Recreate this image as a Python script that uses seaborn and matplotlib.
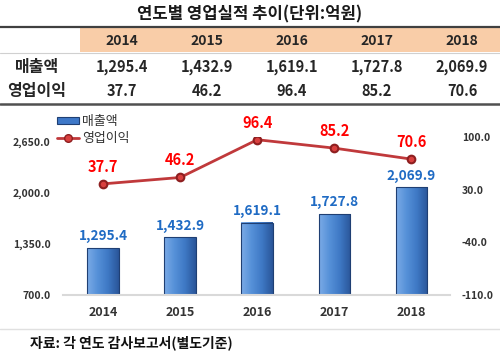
import numpy as np
import pandas as pd
import matplotlib
matplotlib.use("Agg")
import matplotlib.pyplot as plt
from matplotlib.patches import Rectangle, Patch
from matplotlib.lines import Line2D
import seaborn as sns

# ---- data ----
years = ["2014", "2015", "2016", "2017", "2018"]
sales = [1295.4, 1432.9, 1619.1, 1727.8, 2069.9]
profit = [37.7, 46.2, 96.4, 85.2, 70.6]
left_ticks = [700, 1350, 2000, 2650]
right_ticks = [-110, -40, 30, 100]

title = "연도별 영업실적 추이(단위:억원)"
row_names = ["매출액", "영업이익"]
source = "자료: 각 연도 감사보고서(별도기준)"

sns.set_theme(style="white")
plt.rcParams["font.family"] = ["Noto Sans CJK KR", "DejaVu Sans"]
plt.rcParams["font.weight"] = "bold"

W, H = 500, 358
fig = plt.figure(figsize=(W / 100, H / 100), dpi=100)


def fx(px):
    return px / W


def fy(py):
    return 1 - py / H


# ---- title + table ----
fig.text(fx(250), fy(14), title, ha="center", va="center", fontsize=12,
         fontweight="bold", color="#1a1a1a")
fig.add_artist(Rectangle((fx(80), fy(52)), fx(420), 25 / H, color="#F9CDA8", lw=0))
fig.add_artist(Line2D([0, 1], [fy(27), fy(27)], color="#404040", lw=1.6))
fig.add_artist(Line2D([0, 1], [fy(52.5), fy(52.5)], color="#D0D0D0", lw=0.8))

col_x = [122, 207, 292, 377, 462]
for x, yr, s, p in zip(col_x, years, sales, profit):
    fig.text(fx(x), fy(41), yr, ha="center", va="center", fontsize=10, fontweight="bold")
    fig.text(fx(x), fy(67), f"{s:,.1f}", ha="center", va="center", fontsize=10.5, fontweight="bold")
    fig.text(fx(x), fy(91), f"{p:.1f}", ha="center", va="center", fontsize=10.5, fontweight="bold")
fig.text(fx(37), fy(67), row_names[0], ha="center", va="center", fontsize=11.5, fontweight="bold")
fig.text(fx(37), fy(91), row_names[1], ha="center", va="center", fontsize=11.5, fontweight="bold")
fig.add_artist(Line2D([0, 1], [fy(104), fy(104)], color="#505050", lw=1.8))

# ---- chart ----
XLIM = (-0.52, 4.5)
ax = fig.add_axes([fx(63), fy(295), fx(387), (295 - 141.7) / H])
# secondary axis sits a little higher, like in the original
ax2 = fig.add_axes([fx(63), fy(295), fx(387), (295 - 137) / H])
ax2.patch.set_visible(False)
df = pd.DataFrame({"year": years, "sales": sales, "profit": profit})

sns.barplot(data=df, x="year", y="sales", ax=ax, color="#3E78C8", width=0.41,
            edgecolor="#1F3F73", linewidth=0.8, saturation=1)
ax.set_ylim(left_ticks[0], left_ticks[-1])
ax.set_xlim(*XLIM)

# cylinder-ish shading on bars
grad = np.linspace(0, 1, 64).reshape(1, -1)
cmap = matplotlib.colors.LinearSegmentedColormap.from_list(
    "bar", ["#7AAAE6", "#5590D8", "#3E78C4", "#2A5699"])
for patch in list(ax.patches):
    x0, w = patch.get_x(), patch.get_width()
    y0 = left_ticks[0]
    y1 = patch.get_y() + patch.get_height()
    ax.imshow(grad, extent=[x0, x0 + w, y0, y1], aspect="auto", cmap=cmap, zorder=1.5)
    ax.add_patch(Rectangle((x0, y0), w, y1 - y0, fill=False, edgecolor="#1F3F73",
                           lw=0.8, zorder=1.6))
    patch.set_visible(False)
ax.set_ylim(left_ticks[0], left_ticks[-1])
ax.set_xlim(*XLIM)

for i, s in enumerate(sales):
    ax.text(i, s + 60, f"{s:,.1f}", ha="center", va="bottom", fontsize=9.8,
            fontweight="bold", color="#1F6BC4", zorder=5, clip_on=False)

ax.set_yticks(left_ticks)
ax.set_yticklabels([f"{v:,.1f}" for v in left_ticks])

sns.pointplot(data=df, x="year", y="profit", ax=ax2, color="#C0393B",
              markers="o", linewidth=2, markersize=5.5,
              markeredgecolor="#8E1F20", markerfacecolor="#D9403F")
ax2.set_ylim(right_ticks[0], right_ticks[-1])
ax2.set_yticks(right_ticks)
ax2.set_yticklabels([f"{v:.1f}" for v in right_ticks])
ax2.set_xlim(*XLIM)
ax2.yaxis.tick_right()
ax2.xaxis.set_visible(False)
for i, p in enumerate(profit):
    ax2.text(i, p + 12, f"{p:.1f}", ha="center", va="bottom", fontsize=10.5,
             fontweight="bold", color="#FF0000", zorder=5, clip_on=False)

for a in (ax, ax2):
    a.set_xlabel("")
    a.set_ylabel("")
    for sp in a.spines.values():
        sp.set_visible(False)
    a.tick_params(length=0, labelsize=7.5, labelcolor="#333333")
    a.grid(False)
ax.spines["bottom"].set_visible(True)
ax.spines["bottom"].set_color("#D9D9D9")
ax.spines["bottom"].set_linewidth(1.5)
ax.tick_params(axis="x", labelsize=9, pad=8)
ax.tick_params(axis="y", pad=9)
ax2.tick_params(axis="y", pad=8.5)
for lab in ax.get_xticklabels() + ax.get_yticklabels() + ax2.get_yticklabels():
    lab.set_fontweight("bold")

handles = [Patch(facecolor="#3E78C8", edgecolor="#1F3F73", lw=0.8),
           Line2D([], [], color="#C0393B", lw=2, marker="o", markersize=5.5,
                  markeredgecolor="#8E1F20", markerfacecolor="#D9403F")]
leg = fig.legend(handles, row_names, loc="upper left",
                 bbox_to_anchor=(fx(52), fy(110)), frameon=False, fontsize=9.3,
                 handlelength=1.7, handleheight=0.5, handletextpad=0.2,
                 labelspacing=0.3, borderaxespad=0)
for t in leg.get_texts():
    t.set_fontweight("normal")
    t.set_color("#333333")

# ---- footer ----
fig.add_artist(Line2D([0, 1], [fy(329), fy(329)], color="#E0E0E0", lw=1))
fig.text(fx(30), fy(343), source, ha="left", va="center", fontsize=10,
         fontweight="bold", color="#111111")

fig.savefig("out.png", dpi=100)
